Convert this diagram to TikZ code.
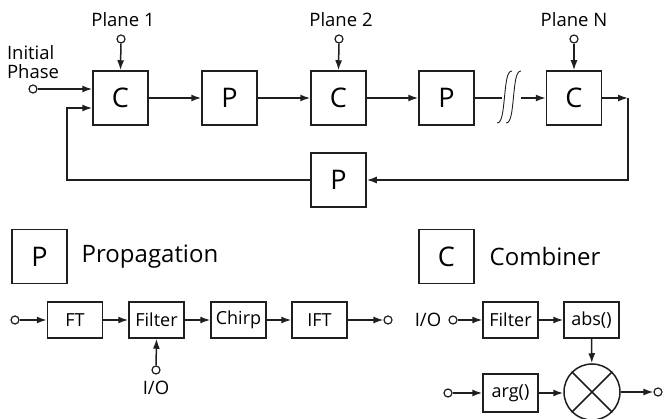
\documentclass[tikz,border=0pt]{standalone}
\usepackage{fontspec}
\setmainfont{Open Sans}
\usetikzlibrary{arrows.meta}
\begin{document}
\begin{tikzpicture}[x=1pt,y=-1pt,
  line width=1.5pt, draw=black!88,
  bigbox/.style={draw, minimum width=55pt, minimum height=54pt, inner sep=0pt, font=\fontsize{27}{30}\selectfont},
  smallbox/.style={draw, minimum width=55pt, minimum height=36pt, inner sep=0pt, font=\fontsize{18}{21}\selectfont},
  term/.style={circle, draw, fill=white, inner sep=0pt, minimum size=8pt, line width=1.2pt},
  lbl/.style={inner sep=0pt, font=\fontsize{18.5}{22}\selectfont},
  title/.style={inner sep=0pt, font=\fontsize{24}{28}\selectfont},
  arr/.style={-{Latex[length=10pt,width=7pt]}},
  brk/.style={line width=0.9pt}]
\useasboundingbox (0,0) rectangle (664,419);
% top chain
\node[bigbox] (C1) at (120.5,98) {C};
\node[bigbox] (P1) at (229.5,98) {P};
\node[bigbox] (C2) at (338.5,98) {C};
\node[bigbox] (P2) at (446.5,98) {P};
\node[bigbox] (CN) at (574,98) {C};
\node[bigbox] (PF) at (338.5,180) {P};
% plane inputs
\node[lbl] (L1) at (123,20) {Plane 1};
\node[lbl] (L2) at (341,20) {Plane 2};
\node[lbl] (LN) at (574,20) {Plane N};
\node[term] (T1) at (121,39) {};
\node[term] (T2) at (339,39) {};
\node[term] (TN) at (574,39) {};
\draw[arr] (T1) -- (C1.north);
\draw[arr] (T2) -- (C2.north);
\draw[arr] (TN) -- (CN.north);
% initial phase
\node[lbl, align=left] (IP) at (33,62) {Initial\\[-3pt]Phase};
\node[term] (TI) at (33,89) {};
\draw[arr] (TI) -- (TI -| C1.west);
% chain arrows
\draw[arr] (C1) -- (P1);
\draw[arr] (P1) -- (C2);
\draw[arr] (C2) -- (P2);
\coordinate (B1) at (502,98);
\coordinate (B2) at (521,98);
\draw (P2) -- (B1);
\draw[brk] (497,123) .. controls (502,123) and (503,112) .. (504.5,97) .. controls (506,82) and (507,71) .. (512,71);
\draw[brk] (506,123) .. controls (511,123) and (512,112) .. (513.5,97) .. controls (515,82) and (516,71) .. (521,71);
\draw[arr] (B2) -- (CN);
% feedback
\coordinate (FA) at (628,98);
\coordinate (FB) at (67,108);
\draw[arr] (CN) -- (FA);
\draw[arr] (FA) |- (PF.east);
\draw[arr] (PF.west) -| (FB) -- (FB -| C1.west);
% legend
\node[bigbox] (LP) at (39.5,256.5) {P};
\node[title] (TP) at (150,257) {Propagation};
\node[bigbox] (LC) at (446.5,256.5) {C};
\node[title] (TC) at (545,257) {Combiner};
% propagation chain
\node[term] (PA) at (15,320) {};
\node[smallbox] (FT) at (75,320) {FT};
\node[smallbox] (FI) at (156.5,320) {Filter};
\node[smallbox] (CH) at (238.5,320) {Chirp};
\node[smallbox] (IF) at (319.5,320) {IFT};
\node[term] (PB) at (388,320) {};
\node[term] (PC) at (156,370) {};
\node[lbl] (PIO) at (156,388) {I/O};
\draw[arr] (PA) -- (FT);
\draw[arr] (FT) -- (FI);
\draw[arr] (FI) -- (CH);
\draw[arr] (CH) -- (IF);
\draw[arr] (IF) -- (PB);
\draw[arr] (PC) -- (FI.south);
% combiner
\node[lbl] (CIO) at (428,320) {I/O};
\node[term] (CA) at (453,320) {};
\node[smallbox] (CF) at (510.5,320) {Filter};
\node[smallbox] (AB) at (591.5,320) {abs()};
\node[circle, draw, minimum size=56pt, inner sep=0pt] (MX) at (592,392) {};
\draw (MX.45) -- (MX.225);
\draw (MX.135) -- (MX.315);
\node[smallbox, minimum height=38pt] (AR) at (510.5,393) {arg()};
\node[term] (CB) at (448,393) {};
\node[term] (CO) at (658,392) {};
\draw[arr] (CA) -- (CF);
\draw[arr] (CF) -- (AB);
\draw[arr] (AB) -- (MX);
\draw[arr] (CB) -- (AR);
\draw[arr] (AR) -- (AR -| MX.west);
\draw[arr] (MX) -- (CO);
\end{tikzpicture}
\end{document}
